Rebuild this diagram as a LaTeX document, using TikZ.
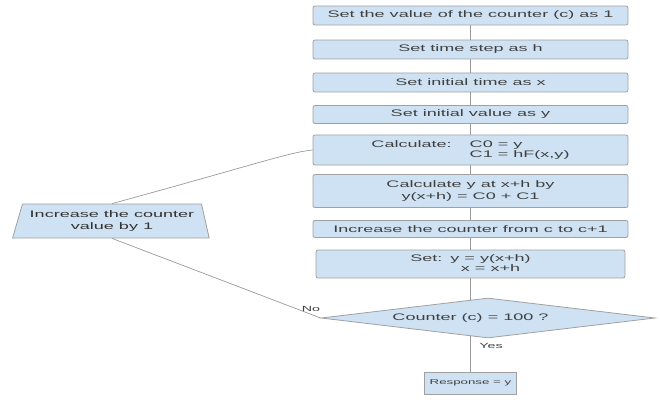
\documentclass[tikz,border=0pt]{standalone}
\usepackage{fontspec}
\usetikzlibrary{shapes.geometric,backgrounds}
\newfontfamily\flowfont[FakeStretch=1.9]{Liberation Sans}
\definecolor{boxfill}{HTML}{CFE2F3}
\definecolor{boxline}{HTML}{A0A0A0}
\definecolor{wire}{HTML}{9A9A9A}
\definecolor{ink}{HTML}{404040}
\tikzset{
  stepbox/.style={draw=boxline, fill=boxfill, rounded corners=2pt, line width=0.8pt,
    minimum width=315pt, inner sep=0pt, align=center, text=ink,
    font=\flowfont\fontsize{9.5pt}{11.5pt}\selectfont},
  decision/.style={diamond, aspect=9, draw=boxline, fill=boxfill, line width=0.8pt,
    minimum width=334pt, minimum height=40pt, inner sep=0pt},
  loopbox/.style={trapezium, trapezium left angle=66, trapezium right angle=71,
    trapezium stretches=true, minimum width=197pt, minimum height=34pt,
    inner sep=0pt, draw=boxline, fill=boxfill, line width=0.8pt, align=center,
    text=ink!80!black, font=\flowfont\fontsize{9.5pt}{11.5pt}\selectfont},
  wirestyle/.style={draw=wire, line width=0.7pt},
  plain/.style={text=ink, inner sep=0pt, font=\flowfont\fontsize{9.5pt}{11.5pt}\selectfont},
  tag/.style={text=ink, font=\flowfont\fontsize{7.5pt}{9pt}\selectfont, inner sep=0pt}
}
\begin{document}
\begin{tikzpicture}[x=1pt, y=-1pt]
  \useasboundingbox (0,0) rectangle (660,406);
  % main column
  \node[stepbox, minimum height=19pt] (b1) at (470.5,15.5) {Set the value of the counter (c) as 1};
  \node[stepbox, minimum height=19pt] (b2) at (470.5,49.5) {Set time step as h};
  \node[stepbox, minimum height=19pt] (b3) at (470.5,82.5) {Set initial time as x};
  \node[stepbox, minimum height=18pt] (b4) at (470.5,114.5) {Set initial value as y};
  \node[stepbox, minimum height=30pt] (b5) at (470.5,150)
    {\begin{tabular}{@{}l@{\hspace{18pt}}l@{}}Calculate: & C0 = y\\[-2pt] & C1 = hF(x,y)\end{tabular}};
  \node[stepbox, minimum height=33pt] (b6) at (470.5,191)
    {Calculate y at x+h by\\ y(x+h) = C0 + C1};
  \node[stepbox, minimum height=17pt] (b7) at (470.5,229) {Increase the counter from c to c+1};
  \node[stepbox, minimum height=28pt, minimum width=309pt] (b8) at (470.5,264)
    {\begin{tabular}{@{}l@{\hspace{8pt}}c@{}}Set: & y = y(x+h)\\[-2pt] & x = x+h\end{tabular}};
  % decision: the diamond reaches further right than the column
  \node[decision] (dec) at (488,318) {};
  \node[plain] (dectext) at (470.5,318) {Counter (c) = 100 ?};
  \node[stepbox, minimum width=92pt, minimum height=22pt, rounded corners=0pt,
    font=\flowfont\fontsize{7pt}{9pt}\selectfont] (resp) at (470.5,383) {Response = y};
  % loop-back step
  \node[loopbox] (inc) at (112,221) {Increase the counter\\ value by 1};
  % connectors
  \draw[wirestyle] (b1) -- (b2);
  \draw[wirestyle] (b2) -- (b3);
  \draw[wirestyle] (b3) -- (b4);
  \draw[wirestyle] (b4) -- (b5);
  \draw[wirestyle] (b5) -- (b6);
  \draw[wirestyle] (b6) -- (b7);
  \draw[wirestyle] (b7) -- (b8);
  \begin{pgfonlayer}{background}
    \draw[wirestyle] (b8.south) -- (dectext.center);
    \draw[wirestyle] (dectext.center) -- (resp.north);
  \end{pgfonlayer}
  \draw[wirestyle] (dec.west) -- (inc.south);
  \draw[wirestyle] (inc.north) .. controls (250,166) and (290,152) .. (b5.west);
  % branch labels
  \node[tag] (no) at (311,309) {No};
  \node[tag] (yes) at (491,346) {Yes};
\end{tikzpicture}
\end{document}
